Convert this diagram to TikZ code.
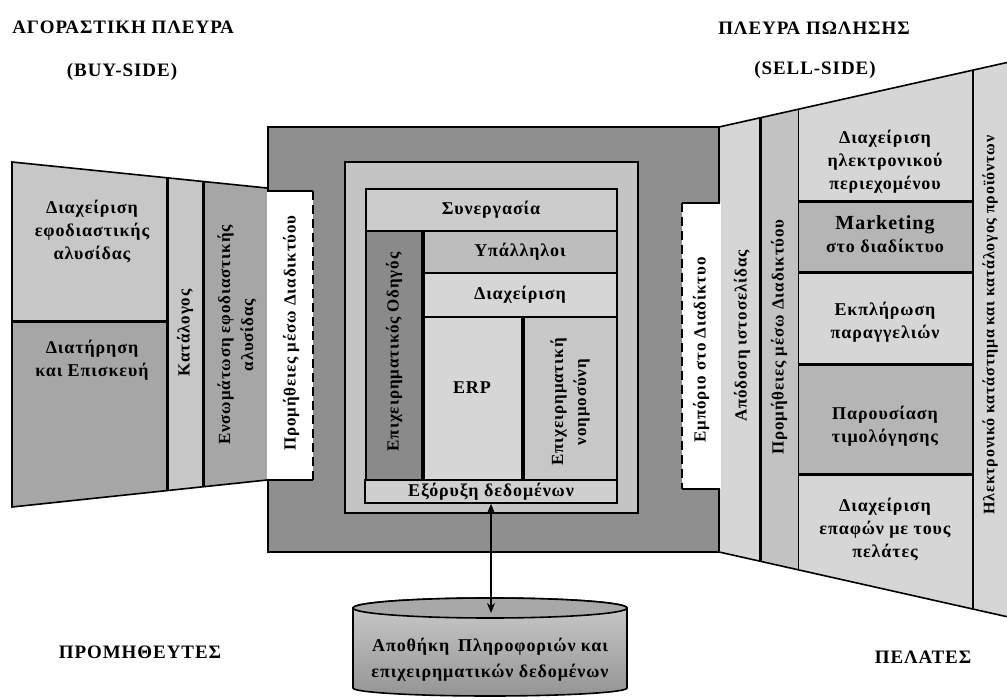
\documentclass[tikz,border=0pt]{standalone}
\usepackage{fontspec}
\setmainfont{Liberation Serif}[LetterSpace=5]
\usetikzlibrary{arrows.meta}

% grey tones
\definecolor{leftLight}{gray}{0.78}
\definecolor{leftDark}{gray}{0.65}
\definecolor{mainG}{gray}{0.56}
\definecolor{innerG}{gray}{0.77}
\definecolor{coopG}{gray}{0.80}
\definecolor{guideG}{gray}{0.54}
\definecolor{staffG}{gray}{0.74}
\definecolor{mgmtG}{gray}{0.84}
\definecolor{erpG}{gray}{0.84}
\definecolor{biG}{gray}{0.78}
\definecolor{mineG}{gray}{0.81}
\definecolor{colOne}{gray}{0.84}
\definecolor{colTwo}{gray}{0.76}
\definecolor{stackLight}{gray}{0.84}
\definecolor{stackDark}{gray}{0.71}
\definecolor{cylTop}{gray}{0.66}
\definecolor{cylUp}{gray}{0.80}
\definecolor{cylDown}{gray}{0.58}

\begin{document}
\begin{tikzpicture}[x=1pt,y=-1pt,
  >={Stealth[length=10pt,width=8pt]},
  lbl/.style={font=\bfseries\fontsize{18}{23}\selectfont, align=center, inner sep=0pt},
  vlbl/.style={lbl, font=\bfseries\fontsize{17}{23}\selectfont, rotate=90},
  head/.style={font=\bfseries\fontsize{19}{22}\selectfont, inner sep=0pt},
  rim/.style={line width=1.6pt},
  bar/.style={line width=3pt},
  cell/.style={draw, line width=1.5pt},
  dashside/.style={line width=1.8pt, dash pattern=on 9pt off 5pt}
]
\useasboundingbox (0,0) rectangle (1007,700);
\fill[white] (0,0) rectangle (1007,700);

% headings
\node[head] (buyTitle) at (123,27) {ΑΓΟΡΑΣΤΙΚΗ ΠΛΕΥΡΑ};
\node[head] (buyTag) at (122,72) {(BUY-SIDE)};
\node[head] (sellTitle) at (814,28) {ΠΛΕΥΡΑ ΠΩΛΗΣΗΣ};
\node[head] (sellTag) at (815,70) {(SELL-SIDE)};
\node[head] (suppliers) at (140,652) {ΠΡΟΜΗΘΕΥΤΕΣ};
\node[head] (customers) at (923,657) {ΠΕΛΑΤΕΣ};

% buy-side funnel
\fill[leftLight] (12,162) -- (167,177.8) -- (167,322) -- (12,322) -- cycle;
\fill[leftDark] (12,322) -- (167,322) -- (167,490.6) -- (12,507) -- cycle;
\fill[leftLight] (167,177.8) -- (203,181.5) -- (203,486.8) -- (167,490.6) -- cycle;
\fill[leftDark] (203,181.5) -- (269,188.2) -- (269,479.8) -- (203,486.8) -- cycle;
\draw[rim] (269,188.2) -- (12,162) -- (12,507) -- (269,479.8);
\draw[bar] (167,177.8) -- (167,490.6);
\draw[bar] (203,181.5) -- (203,486.8);
\draw[bar] (12,322) -- (167,322);

% sell-side funnel
\fill[colOne] (719,127) -- (760,117.8) -- (760,561.2) -- (719,552) -- cycle;
\fill[colTwo] (760,117.8) -- (798,109.3) -- (798,569.7) -- (760,561.2) -- cycle;
\fill[stackLight] (798,109.3) -- (973,70.1) -- (973,202) -- (798,202) -- cycle;
\fill[stackDark] (798,202) rectangle (973,273);
\fill[stackLight] (798,273) rectangle (973,365);
\fill[stackDark] (798,365) rectangle (973,474);
\fill[stackLight] (798,474) -- (973,474) -- (973,609) -- (798,569.7) -- cycle;
\fill[stackLight] (973,70.1) -- (1007,62.5) -- (1007,616.7) -- (973,609) -- cycle;
\draw[rim] (719,127) -- (1007,62.5);
\draw[rim] (719,552) -- (1007,616.7);
\draw[bar] (760,117.8) -- (760,561.2);
\draw[line width=1pt] (798,109.3) -- (798,569.7);
\draw[line width=2.5pt] (973,70.1) -- (973,609);
\draw[bar] (798,202) -- (973,202);
\draw[bar] (798,273) -- (973,273);
\draw[bar] (798,365) -- (973,365);
\draw[bar] (798,474) -- (973,474);

% enterprise core
\draw[rim, fill=mainG] (268,127) rectangle (719,552);
\draw[rim, fill=innerG] (345,162) rectangle (638,513);
\draw[cell, fill=coopG] (366,189) rectangle (617,231);
\draw[cell, fill=guideG] (366,231) rectangle (423,480);
\draw[cell, fill=staffG] (423,231) rectangle (617,273);
\draw[cell, fill=mgmtG] (423,273) rectangle (617,317);
\draw[cell, fill=erpG] (423,317) rectangle (523,480);
\draw[cell, fill=biG] (523,317) rectangle (617,480);
\draw[line width=4pt] (423,231) -- (423,480);
\draw[line width=4pt] (523,317) -- (523,480);
\node[cell, fill=mineG, minimum width=252pt, minimum height=23pt, lbl] (mine) at (491,491.5) {Εξόρυξη δεδομένων};

% web procurement / web commerce strips
\fill[white] (266.5,191) rectangle (313,480);
\draw[rim] (267,191) -- (313,191);
\draw[rim] (267,480) -- (313,480);
\draw[dashside] (313,191) -- (313,480);
\fill[white] (682,203) rectangle (720.5,489);
\draw[rim] (682,203) -- (720,203);
\draw[rim] (682,489) -- (720,489);
\draw[dashside] (682,203) -- (682,489);

% data warehouse
\draw[rim, top color=cylUp, bottom color=cylDown]
  (353,608) -- (353,688) arc[start angle=180, end angle=0, x radius=137, y radius=8]
  -- (627,608) arc[start angle=0, end angle=-180, x radius=137, y radius=10] -- cycle;
\filldraw[rim, fill=cylTop] (490,608) ellipse[x radius=137, y radius=10];
\coordinate (storeTop) at (491,613);
\node[lbl, font=\bfseries\fontsize{18}{26}\selectfont] (store) at (490,660)
  {Αποθήκη\enspace Πληροφοριών και\\επιχειρηματικών δεδομένων};
\draw[line width=1.3pt, <->] (mine.south) -- (storeTop);

% buy-side labels
\node[lbl] (scm) at (92,232) {Διαχείριση\\εφοδιαστικής\\αλυσίδας};
\node[lbl] (maint) at (92,360) {Διατήρηση\\και Επισκευή};
\node[vlbl] (catalog) at (185,333) {Κατάλογος};
\node[vlbl] (integ) at (237,335) {Ενσωμάτωση εφοδιαστικής\\αλυσίδας};
\node[vlbl] (eproc) at (291,333) {Προμήθειες μέσω Διαδικτύου};

% core labels
\node[lbl] (coop) at (491,210) {Συνεργασία};
\node[vlbl] (guide) at (394,352) {Επιχειρηματικός Οδηγός};
\node[lbl] (staff) at (520,252) {Υπάλληλοι};
\node[lbl] (mgmt) at (520,295) {Διαχείριση};
\node[lbl] (erp) at (472,388) {ERP};
\node[vlbl] (bi) at (570,402) {Επιχειρηματική\\νοημοσύνη};
\node[vlbl] (ecom) at (701,350) {Εμπόριο στο Διαδίκτυο};

% sell-side labels
\node[vlbl] (site) at (742,336) {Απόδοση ιστοσελίδας};
\node[vlbl] (sproc) at (779,337) {Προμήθειες μέσω Διαδικτύου};
\node[lbl] (content) at (885,162) {Διαχείριση\\ηλεκτρονικού\\περιεχομένου};
\node[lbl] (mkt) at (885,234) {{\fontsize{20}{23}\selectfont Marketing}\\στο διαδίκτυο};
\node[lbl] (orders) at (885,322) {Εκπλήρωση\\παραγγελιών};
\node[lbl] (pricing) at (885,426) {Παρουσίαση\\τιμολόγησης};
\node[lbl] (crm) at (885,530) {Διαχείριση\\επαφών με τους\\πελάτες};
\node[vlbl, font=\bfseries\fontsize{16}{20}\selectfont] (shop) at (990,325) {Ηλεκτρονικό κατάστημα και κατάλογος προϊόντων};
\end{tikzpicture}
\end{document}
